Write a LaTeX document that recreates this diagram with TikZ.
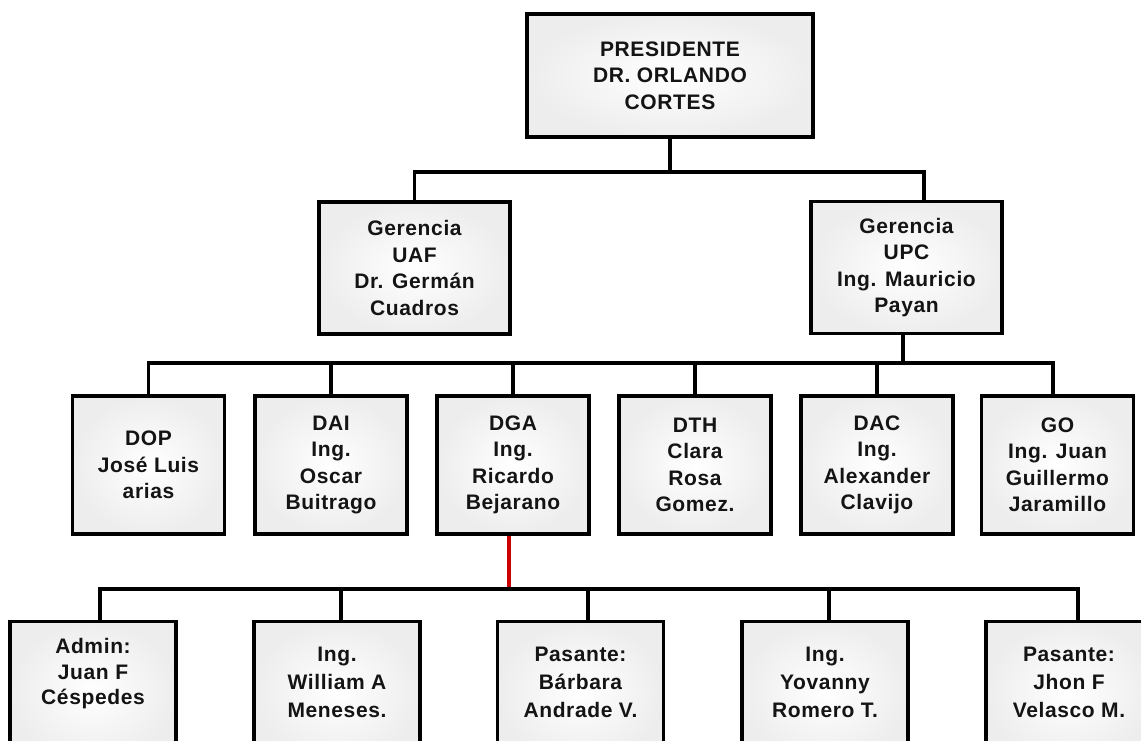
\documentclass[tikz,border=0pt]{standalone}
\usepackage{fontspec}
\setmainfont{Liberation Sans}[LetterSpace=3]

% text block pinned to the top of a tall box: #1 gap above, #2 baselineskip, #3 lines
\newcommand\toplines[3]{\parbox[c][140pt][t]{166pt}{\centering\fontsize{21}{#2}\selectfont\vspace*{#1}#3}}

\begin{document}
\begin{tikzpicture}[x=1pt,y=-1pt,
  card/.style={draw=black, line width=3.3pt, shading=radial, inner color=white,
    outer color=black!7, align=center, inner sep=0pt, text=black!92,
    font=\bfseries\fontsize{21}{26.5}\selectfont},
  top/.style={card, minimum width=286, minimum height=123},
  mid/.style={card, minimum width=191, minimum height=132},
  dept/.style={card, minimum width=152, minimum height=138},
  staff/.style={card, anchor=north, minimum width=166, minimum height=140},
  conn/.style={line width=3.2pt, draw=black},
  hot/.style={line width=3.2pt, draw=red!80!black}]

\useasboundingbox (0,0) rectangle (1141,741);
\fill[white] (0,0) rectangle (1141,741);
\clip (0,0) rectangle (1141,741);

% level 1
\node[top] (pres) at (670,75.5) {PRESIDENTE\\DR. ORLANDO\\CORTES};

% level 2
\node[mid] (uaf) at (414.5,268) {Gerencia\\UAF\\Dr. Germán\\Cuadros};
\node[mid] (upc) at (906.5,267.5) {Gerencia\\UPC\\Ing. Mauricio\\Payan};

% level 3
\node[dept] (dop) at (148.5,465) {DOP\\José Luis\\arias};
\node[dept] (dai) at (331,465) {DAI\\Ing.\\Oscar\\Buitrago};
\node[dept] (dga) at (513,465) {DGA\\Ing.\\Ricardo\\Bejarano};
\node[dept] (dth) at (695,465) {DTH\\Clara\\Rosa\\Gomez.};
\node[dept] (dac) at (877,465) {DAC\\Ing.\\Alexander\\Clavijo};
\node[dept] (go)  at (1057.5,465) {GO\\Ing. Juan\\Guillermo\\Jaramillo};

% level 4 (boxes run past the lower edge)
\node[staff] (adm) at (93,620)   {\toplines{17pt}{25.5pt}{Admin:\\Juan F\\Céspedes}};
\node[staff] (wil) at (337,620)  {\toplines{25pt}{28pt}{Ing.\\William A\\Meneses.}};
\node[staff] (bar) at (580.5,620){\toplines{25pt}{28pt}{Pasante:\\Bárbara\\Andrade V.}};
\node[staff] (yov) at (825,620)  {\toplines{25pt}{28pt}{Ing.\\Yovanny\\Romero T.}};
\node[staff] (jho) at (1069,620) {\toplines{25pt}{28pt}{Pasante:\\Jhon F\\Velasco M.}};

% bus lines
\coordinate (bus1) at (670,172);
\coordinate (bus2) at (903,363);
\coordinate (bus3) at (509,589);

% president to managers
\draw[conn] (pres.south) -- (bus1);
\draw[conn] (uaf.north) |- (bus1) -| ([xshift=17.5]upc.north);

% UPC to departments
\draw[conn] ([xshift=-3.5]upc.south) -- (bus2);
\draw[conn] (dop.north) |- (bus2) -| ([xshift=-4.5]go.north);
\foreach \n in {dai,dga,dth,dac}
  \draw[conn] (\n.north) -- (\n.north |- bus2);

% DGA to its staff
\draw[hot] ([xshift=-4]dga.south) -- (bus3);
\draw[conn] ([xshift=7]adm.north) |- (bus3) -| ([xshift=9]jho.north);
\draw[conn] ([xshift=4]wil.north) -- ([xshift=4]wil.north |- bus3);
\draw[conn] ([xshift=7.5]bar.north) -- ([xshift=7.5]bar.north |- bus3);
\draw[conn] ([xshift=4]yov.north) -- ([xshift=4]yov.north |- bus3);
\end{tikzpicture}
\end{document}
